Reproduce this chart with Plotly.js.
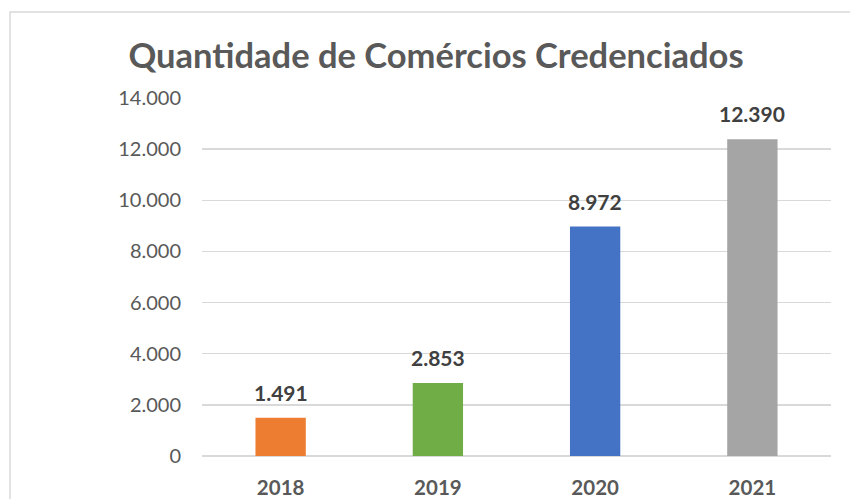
<!DOCTYPE html>
<html>
<head>
<meta charset="utf-8">
<script src="https://cdn.plot.ly/plotly-3.0.1.min.js"></script>
<style>html,body{margin:0;padding:0;background:#fff;overflow:hidden}#chart{width:850px;height:499px}</style>
</head>
<body>
<div id="chart"></div>
<script>
const categories = ["2018", "2019", "2020", "2021"];
const values = [1491, 2853, 8972, 12390];
const valueLabels = ["1.491", "2.853", "8.972", "12.390"];
const barColors = ["#ED7D31", "#70AD47", "#4472C4", "#A5A5A5"];
const tickValues = [0, 2000, 4000, 6000, 8000, 10000, 12000, 14000];
const tickLabels = ["0", "2.000", "4.000", "6.000", "8.000", "10.000", "12.000", "14.000"];

const FONT = "Lato, 'Open Sans', sans-serif";

const trace = {
  type: "bar",
  x: categories,
  y: values,
  marker: {color: barColors},
  hoverinfo: "none"
};

const annotations = categories.map((c, i) => ({
  x: i, y: values[i], xref: "x", yref: "y",
  text: "<b>" + valueLabels[i] + "</b>", showarrow: false,
  yanchor: "bottom", yshift: 11,
  font: {family: FONT, size: 21, color: "#404040"}
}));

const layout = {
  width: 850, height: 499,
  margin: {l: 202, r: 19, t: 98, b: 43},
  paper_bgcolor: "#ffffff", plot_bgcolor: "#ffffff",
  showlegend: false,
  bargap: 0.68,
  title: {
    text: "<b>Quantidade de Comércios Credenciados</b>",
    xref: "container", x: 436 / 850, xanchor: "center",
    yref: "container", y: 1 - 56 / 499, yanchor: "middle",
    font: {family: FONT, size: 34.5, color: "#595959"}
  },
  xaxis: {
    type: "category",
    range: [-0.5, 3.5],
    showgrid: false, zeroline: false, showline: false,
    ticks: "",
    tickmode: "array", tickvals: categories,
    ticktext: categories.map(c => "<b>" + c + "</b>"),
    tickfont: {family: FONT, size: 20.5, color: "#595959"},
    ticklabelstandoff: 17
  },
  yaxis: {
    range: [0, 14000],
    tickmode: "array", tickvals: tickValues, ticktext: tickLabels,
    showgrid: true, gridcolor: "#d9d9d9", gridwidth: 1.3,
    zeroline: true, zerolinecolor: "#d9d9d9", zerolinewidth: 1.3,
    showline: false, ticks: "",
    ticklabelstandoff: 20,
    tickfont: {family: FONT, size: 20, color: "#595959"}
  },
  annotations: annotations,
  shapes: [{
    type: "rect", xref: "paper", yref: "paper",
    x0: (10 - 202) / 629, x1: (900 - 202) / 629,
    y0: (456 - 560) / 358, y1: (456 - 12) / 358,
    line: {color: "#d9d9d9", width: 1.5}, fillcolor: "rgba(0,0,0,0)", layer: "below"
  }]
};

Plotly.newPlot("chart", [trace], layout, {displayModeBar: false, staticPlot: true});
</script>
</body>
</html>
